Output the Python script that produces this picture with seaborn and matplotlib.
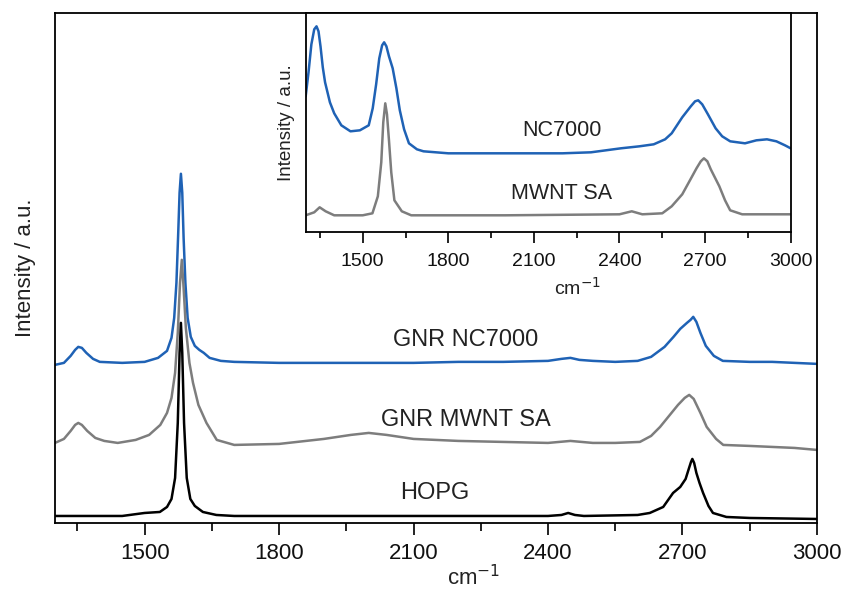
import pandas as pd
import matplotlib.pyplot as plt
import seaborn as sns
from matplotlib.ticker import MultipleLocator

sns.set_style("white")
plt.rcParams['font.family'] = ['Liberation Sans', 'DejaVu Sans']
plt.rcParams['text.color'] = '#222222'
plt.rcParams['axes.labelcolor'] = '#222222'
plt.rcParams['xtick.color'] = '#111111'

# Espectros Raman (intensidade em u.a.)
nc7000_x = [1300, 1320, 1335, 1345, 1352, 1360, 1370, 1385, 1400, 1450, 1500, 1530, 1550, 1560,
            1566, 1571, 1575, 1578, 1581, 1584, 1587, 1591, 1596, 1603, 1612, 1622, 1632, 1645,
            1670, 1700, 1800, 1900, 2000, 2100, 2200, 2300, 2400, 2430, 2450, 2470, 2500, 2550,
            2600, 2630, 2660, 2680, 2695, 2710, 2718, 2724, 2731, 2740, 2752, 2770, 2790, 2850,
            2900, 3000]
nc7000_y = [158, 160, 167, 173, 176, 175, 170, 164, 161, 160, 161, 165, 172, 185,
            205, 240, 290, 330, 349, 330, 285, 240, 205, 186, 177, 173, 170, 165,
            162, 161, 160, 160, 160, 160, 161, 161, 162, 164, 165, 163, 162, 161,
            162, 166, 176, 186, 194, 200, 203, 206, 201, 190, 177, 167, 162, 161,
            161, 159]

mwnt_x = [1300, 1320, 1335, 1345, 1352, 1360, 1372, 1390, 1410, 1440, 1480, 1510, 1535, 1550,
          1560, 1568, 1574, 1579, 1583, 1587, 1592, 1600, 1608, 1620, 1638, 1661, 1700, 1800,
          1900, 1960, 2000, 2040, 2100, 2200, 2300, 2400, 2450, 2500, 2550, 2605, 2630, 2650,
          2670, 2690, 2705, 2715, 2725, 2740, 2754, 2775, 2791, 2850, 2900, 2950, 3000]
mwnt_y = [80, 84, 92, 98, 100, 98, 92, 85, 82, 80, 83, 88, 98, 110,
          125, 150, 190, 240, 263, 235, 195, 160, 140, 118, 100, 83, 78, 79,
          84, 88, 90, 88, 84, 82, 81, 80, 82, 80, 80, 81, 87, 96,
          107, 118, 125, 128, 124, 110, 96, 84, 78, 77, 76, 75, 73]

hopg_x = [1300, 1450, 1500, 1534, 1550, 1560, 1568, 1574, 1578, 1581, 1584, 1588, 1594, 1602,
          1612, 1630, 1660, 1700, 2400, 2430, 2445, 2460, 2480, 2600, 2627, 2657, 2679, 2695,
          2707, 2714, 2719, 2722, 2726, 2731, 2738, 2746, 2758, 2768, 2798, 2850, 3000]
hopg_y = [7, 7, 10, 11, 16, 24, 45, 100, 170, 200, 170, 100, 45, 24,
          17, 11, 8, 7, 7, 8, 10, 8, 7, 8, 10, 16, 30, 36,
          44, 54, 61, 64, 60, 50, 40, 30, 17, 10, 6, 5, 4]

# Inset: nanotubos de partida
in_nc_x = [1300, 1310, 1320, 1330, 1338, 1345, 1352, 1360, 1368, 1385, 1400, 1425, 1457, 1490,
           1521, 1535, 1547, 1558, 1568, 1575, 1583, 1592, 1605, 1618, 1630, 1645, 1662, 1690,
           1713, 1800, 1900, 2000, 2100, 2200, 2300, 2405, 2470, 2520, 2560, 2583, 2620, 2650,
           2665, 2676, 2690, 2710, 2737, 2760, 2788, 2840, 2880, 2917, 2950, 2980, 3000]
in_nc_y = [136, 160, 188, 203, 206, 201, 186, 165, 150, 130, 119, 107, 101, 102,
           107, 124, 148, 174, 187, 190, 186, 176, 164, 144, 122, 103, 89, 83,
           81, 79, 79, 79, 79, 79, 80, 84, 86, 88, 93, 99, 115, 126,
           131, 132, 128, 118, 104, 96, 91, 89, 92, 93, 91, 87, 84]

in_mw_x = [1300, 1330, 1349, 1370, 1400, 1450, 1500, 1534, 1553, 1565, 1572, 1579, 1585, 1592,
           1600, 1611, 1637, 1670, 2000, 2400, 2443, 2480, 2550, 2583, 2620, 2647, 2670, 2685,
           2696, 2708, 2720, 2750, 2770, 2788, 2830, 3000]
in_mw_y = [17, 20, 25, 21, 17, 17, 17, 19, 36, 70, 110, 129, 118, 92,
           60, 32, 21, 17, 17, 18, 21, 18, 19, 26, 38, 52, 64, 71,
           74, 71, 63, 46, 32, 22, 18, 18]

xticks = [1500, 1800, 2100, 2400, 2700, 3000]
azul = '#1f62b5'
cinza = '#7d7d7d'

fig = plt.figure(figsize=(8.43, 5.92), dpi=100)
ax = fig.add_axes([0.0652, 0.1166, 0.9039, 0.8620])

sns.lineplot(x=nc7000_x, y=nc7000_y, ax=ax, color=azul, lw=1.8)
sns.lineplot(x=mwnt_x, y=mwnt_y, ax=ax, color=cinza, lw=1.8)
sns.lineplot(x=hopg_x, y=hopg_y, ax=ax, color='black', lw=1.8)

ax.set_xlim(1300, 3000)
ax.set_ylim(0, 510)
ax.set_xticks(xticks)
ax.xaxis.set_minor_locator(MultipleLocator(150))
ax.set_yticks([])
ax.tick_params(axis='x', which='major', direction='out', length=8.5, width=1.3,
               labelsize=16, pad=6, bottom=True)
ax.tick_params(axis='x', which='minor', direction='out', length=5.8, width=1.3, bottom=True)
for s in ax.spines.values():
    s.set_linewidth(1.3)
    s.set_color('black')
ax.set_xlabel('cm$^{-1}$', fontsize=16)
ax.xaxis.set_label_coords(0.55, -0.083)
ax.set_ylabel('Intensity / a.u.', fontsize=16, labelpad=14)

ax.text(2217, 183, 'GNR NC7000', fontsize=17, ha='center', va='center')
ax.text(2217, 103, 'GNR MWNT SA', fontsize=17, ha='center', va='center')
ax.text(2148, 30, 'HOPG', fontsize=17, ha='center', va='center')

# Inset
axi = fig.add_axes([0.3626, 0.6076, 0.5753, 0.3709])
axi.set_facecolor('white')
sns.lineplot(x=in_nc_x, y=in_nc_y, ax=axi, color=azul, lw=1.8)
sns.lineplot(x=in_mw_x, y=in_mw_y, ax=axi, color=cinza, lw=1.8)
axi.set_xlim(1300, 3000)
axi.set_ylim(0, 219.6)
axi.set_xticks(xticks)
axi.xaxis.set_minor_locator(MultipleLocator(150))
axi.set_yticks([])
axi.tick_params(axis='x', which='major', direction='out', length=8, width=1.3,
                labelsize=14, pad=7, bottom=True)
axi.tick_params(axis='x', which='minor', direction='out', length=4.5, width=1.3, bottom=True)
for s in axi.spines.values():
    s.set_linewidth(1.3)
    s.set_color('black')
axi.set_xlabel('cm$^{-1}$', fontsize=14)
axi.xaxis.set_label_coords(0.56, -0.205)
axi.set_ylabel('Intensity / a.u.', fontsize=13.5, labelpad=8)
axi.text(2198, 102, 'NC7000', fontsize=15.5, ha='center', va='center')
axi.text(2198, 39, 'MWNT SA', fontsize=15.5, ha='center', va='center')

plt.savefig('out.png', dpi=100)
